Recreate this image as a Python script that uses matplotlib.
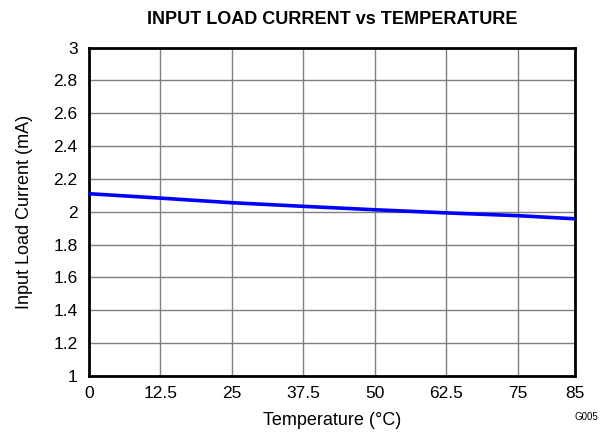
import matplotlib
matplotlib.use('Agg')
from matplotlib import pyplot as plt

plt.rcParams['font.family'] = ['Liberation Sans', 'DejaVu Sans']

temp = [0, 12.5, 25, 37.5, 50, 62.5, 75, 85]
current = [2.11, 2.083, 2.055, 2.033, 2.012, 1.993, 1.976, 1.957]
xticks = [0, 12.5, 25, 37.5, 50, 62.5, 75, 85]
xlabels = ['0', '12.5', '25', '37.5', '50', '62.5', '75', '85']
yticks = [1, 1.2, 1.4, 1.6, 1.8, 2, 2.2, 2.4, 2.6, 2.8, 3]
ylabels = ['1', '1.2', '1.4', '1.6', '1.8', '2', '2.2', '2.4', '2.6', '2.8', '3']

fig = plt.figure(figsize=(6.08, 4.33), dpi=100)
ax = fig.add_axes([0.146, 0.132, 0.8, 0.758])

ax.plot(temp, current, color='#0000ff', lw=2.6, zorder=3)

ax.set_xlim(0, 85)
ax.set_ylim(1, 3)
ax.set_xticks(xticks)
ax.set_xticklabels(xlabels)
ax.set_yticks(yticks)
ax.set_yticklabels(ylabels)
ax.grid(True, color='#7f7f7f', lw=1)
ax.tick_params(axis='x', length=0, labelsize=12.5, pad=7)
ax.tick_params(axis='y', length=0, labelsize=12.5, pad=8)
for s in ax.spines.values():
    s.set_linewidth(2)
    s.set_color('black')

ax.set_xlabel('Temperature (°C)', fontsize=13, labelpad=8)
ax.set_ylabel('Input Load Current (mA)', fontsize=13, labelpad=15)
ax.set_title('INPUT LOAD CURRENT vs TEMPERATURE', fontsize=13,
             fontweight='bold', pad=17)
fig.text(0.984, 0.025, 'G005', fontsize=7, ha='right', va='bottom')

fig.savefig('out.png', dpi=100)
